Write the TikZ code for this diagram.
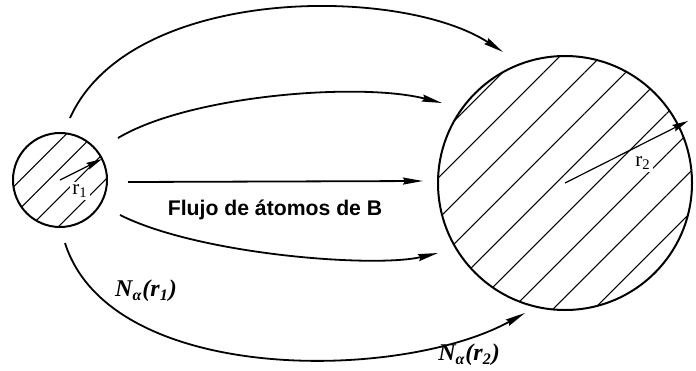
\documentclass[tikz,border=0pt]{standalone}
\usepackage{fontspec}
\setmainfont{Liberation Serif}
\newfontfamily\flowfont{Liberation Sans}
\usetikzlibrary{arrows.meta,patterns.meta}

\tikzset{
  atom/.style={circle, draw, line width=1pt, inner sep=0pt},
  hatch/.style={pattern={Lines[angle=45,distance=#1,line width=0.5pt]}},
  flow/.style={line width=0.9pt, -{Stealth[length=10pt,width=3.5pt,inset=1pt]}},
  radarrow/.style={line width=0.6pt, -{Stealth[length=8pt,width=3.5pt,inset=1pt]}},
  rlabel/.style={font=\fontsize{10.5}{12}\selectfont, fill=white, inner sep=1pt},
  nlabel/.style={font=\fontsize{12}{14}\selectfont\bfseries\itshape},
}

\begin{document}
\begin{tikzpicture}[x=0.5pt,y=-0.5pt]
    \useasboundingbox (0,0) rectangle (696,370);

    % the two particles
    \node[atom, hatch=10pt, minimum size=47pt] (A) at (60,180) {};
    \node[atom, hatch=14.5pt, minimum size=127pt] (B) at (565,183) {};

    % radii
    \coordinate (t1) at (102,159);
    \coordinate (t2) at (688,121);
    \draw[radarrow] (A.center) -- (t1);
    \draw[radarrow] (B.center) -- (t2);
    \node[rlabel] (r1) at (80,191) {r\textsubscript{1}};
    \node[rlabel] (r2) at (643,163) {r\textsubscript{2}};

    % ends of the flux lines
    \coordinate (s1) at (70,118);  \coordinate (e1) at (503,52);
    \coordinate (s2) at (118,138); \coordinate (e2) at (442,103);
    \coordinate (s3) at (128,182); \coordinate (e3) at (423,181);
    \coordinate (s4) at (120,215); \coordinate (e4) at (438,253);
    \coordinate (s5) at (65,243);  \coordinate (e5) at (525,313);

    \draw[flow] (s1) .. controls (130,-15) and (400,-15) .. (e1);
    \draw[flow] (s2) .. controls (190,95) and (360,82) .. (e2);
    \draw[flow] (s3) -- (e3);
    \draw[flow] (s4) .. controls (200,255) and (375,268) .. (e4);
    \draw[flow] (s5) .. controls (110,385) and (400,382) .. (e5);

    \node[font=\flowfont\bfseries\fontsize{10.6}{12}\selectfont] (flux) at (275,210) {Flujo de átomos de B};
    \node[nlabel] (N1) at (146,291) {N\textsubscript{α}(r\textsubscript{1})};
    \node[nlabel] (N2) at (469,355) {N\textsubscript{α}(r\textsubscript{2})};
\end{tikzpicture}
\end{document}
